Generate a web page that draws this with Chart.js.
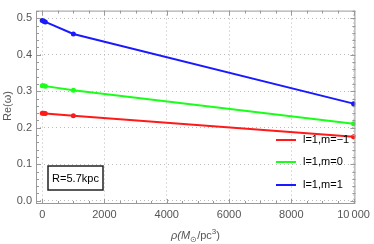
<!DOCTYPE html>
<html>
<head>
<meta charset="utf-8">
<script src="https://cdn.jsdelivr.net/npm/chart.js@4"></script>
<style>
  html, body { margin: 0; padding: 0; background: #fff; }
  #wrap { width: 374px; height: 244px; position: relative; }
</style>
</head>
<body>
<div id="wrap"><canvas id="chart" width="374" height="244"></canvas></div>
<script>
// ===== Data =====
const densities = [0, 50, 100, 1000, 10000];
const redValues = [0.240, 0.240, 0.239, 0.233, 0.175];
const greenValues = [0.315, 0.315, 0.314, 0.303, 0.211];
const blueValues = [0.494, 0.492, 0.490, 0.457, 0.266];
const seriesLabels = ['l=1,m=\u22121', 'l=1,m=0', 'l=1,m=1'];
const seriesColors = ['#ff1a1a', '#1aff1a', '#1a1aff'];
const xTicks = [0, 2000, 4000, 6000, 8000, 10000];
const yTicks = [0.0, 0.1, 0.2, 0.3, 0.4, 0.5];
const boxLabel = 'R=5.7kpc';

const axisGray = '#999999';
const textGray = '#555555';

function toPoints(values) {
  return densities.map((d, i) => ({ x: d, y: values[i] }));
}

// ===== Frame, minor ticks, legend and label box =====
const decorPlugin = {
  id: 'decor',
  afterDraw(chart) {
    const { ctx, chartArea: a, scales } = chart;
    const xs = scales.x, ys = scales.y;
    ctx.save();
    ctx.strokeStyle = axisGray;
    ctx.lineWidth = 1;
    ctx.strokeRect(a.left + 0.5, a.top + 0.5, a.right - a.left - 1, a.bottom - a.top - 1);

    // major + minor ticks on all four sides
    ctx.beginPath();
    for (let v = -500; v <= 10500; v += 500) {
      const px = Math.round(xs.getPixelForValue(v)) + 0.5;
      if (px < a.left || px > a.right) continue;
      const len = v % 2000 === 0 ? 5 : 3;
      ctx.moveTo(px, a.bottom); ctx.lineTo(px, a.bottom - len);
      ctx.moveTo(px, a.top); ctx.lineTo(px, a.top + len);
    }
    for (let k = 0; k <= 26; k++) {
      const v = k * 0.02;
      const py = Math.round(ys.getPixelForValue(v)) + 0.5;
      if (py < a.top || py > a.bottom) continue;
      const len = k % 5 === 0 ? 5 : 3;
      ctx.moveTo(a.left, py); ctx.lineTo(a.left + len, py);
      ctx.moveTo(a.right, py); ctx.lineTo(a.right - len, py);
    }
    ctx.stroke();

    // legend
    ctx.font = '11px "Liberation Sans", Arial, sans-serif';
    ctx.textBaseline = 'middle';
    ctx.textAlign = 'left';
    const rows = [140, 162, 185];
    seriesLabels.forEach((lab, i) => {
      ctx.strokeStyle = seriesColors[i];
      ctx.lineWidth = 2;
      ctx.beginPath();
      ctx.moveTo(276, rows[i]); ctx.lineTo(296, rows[i]);
      ctx.stroke();
      ctx.fillStyle = '#000';
      ctx.fillText(lab, 303, rows[i]);
    });

    // R label box
    ctx.fillStyle = '#fff';
    ctx.fillRect(48, 166, 55, 24);
    ctx.strokeStyle = '#222';
    ctx.lineWidth = 1.5;
    ctx.strokeRect(48, 166, 55, 24);
    ctx.fillStyle = '#000';
    ctx.font = '11px "Liberation Sans", Arial, sans-serif';
    ctx.textAlign = 'center';
    ctx.fillText(boxLabel, 75.5, 178.5);

    // axis titles
    ctx.fillStyle = textGray;
    ctx.font = 'italic 11px "Liberation Sans", Arial, sans-serif';
    ctx.textAlign = 'left';
    const tx = 171, ty = 236;
    ctx.fillText('\u03C1(M', tx, ty);
    let w = ctx.measureText('\u03C1(M').width;
    ctx.font = '8px "Liberation Sans", Arial, sans-serif';
    ctx.fillText('\u2299', tx + w, ty + 4);
    w += ctx.measureText('\u2299').width;
    ctx.font = '11px "Liberation Sans", Arial, sans-serif';
    ctx.fillText('/pc', tx + w, ty);
    w += ctx.measureText('/pc').width;
    ctx.font = '8px "Liberation Sans", Arial, sans-serif';
    ctx.fillText('3', tx + w, ty - 4);
    w += ctx.measureText('3').width;
    ctx.font = '11px "Liberation Sans", Arial, sans-serif';
    ctx.fillText(')', tx + w, ty);

    ctx.translate(8, 106);
    ctx.rotate(-Math.PI / 2);
    ctx.textAlign = 'center';
    ctx.fillText('Re(\u03C9)', 0, 0);
    ctx.restore();
  }
};

function makeDataset(values, color) {
  return {
    data: toPoints(values),
    borderColor: color,
    backgroundColor: color,
    borderWidth: 2,
    pointRadius: 2.5,
    pointBorderWidth: 0,
    tension: 0
  };
}

new Chart(document.getElementById('chart'), {
  type: 'line',
  data: {
    datasets: [
      makeDataset(redValues, seriesColors[0]),
      makeDataset(greenValues, seriesColors[1]),
      makeDataset(blueValues, seriesColors[2])
    ]
  },
  options: {
    responsive: false,
    animation: false,
    layout: { padding: { top: 1, right: 13, left: 0, bottom: 0 } },
    plugins: { legend: { display: false }, tooltip: { enabled: false } },
    scales: {
      x: {
        type: 'linear',
        min: -200,
        max: 10060,
        afterBuildTicks: axis => { axis.ticks = xTicks.map(v => ({ value: v })); },
        afterFit: axis => { axis.height = 40; },
        border: { display: false, dash: [1, 3] },
        grid: { color: '#bbbbbb', drawTicks: false, lineWidth: 1 },
        ticks: {
          color: textGray,
          font: { family: '"Liberation Sans", Arial, sans-serif', size: 11 },
          padding: 4,
          maxRotation: 0,
          callback: v => v === 10000 ? '10\u2009000' : String(v)
        }
      },
      y: {
        type: 'linear',
        min: -0.009,
        max: 0.521,
        afterBuildTicks: axis => { axis.ticks = yTicks.map(v => ({ value: v })); },
        afterFit: axis => { axis.width = 36; },
        border: { display: false, dash: [1, 3] },
        grid: { color: '#bbbbbb', drawTicks: false, lineWidth: 1 },
        ticks: {
          color: textGray,
          font: { family: '"Liberation Sans", Arial, sans-serif', size: 11 },
          padding: 4,
          callback: v => v.toFixed(1)
        }
      }
    }
  },
  plugins: [decorPlugin]
});
</script>
</body>
</html>
